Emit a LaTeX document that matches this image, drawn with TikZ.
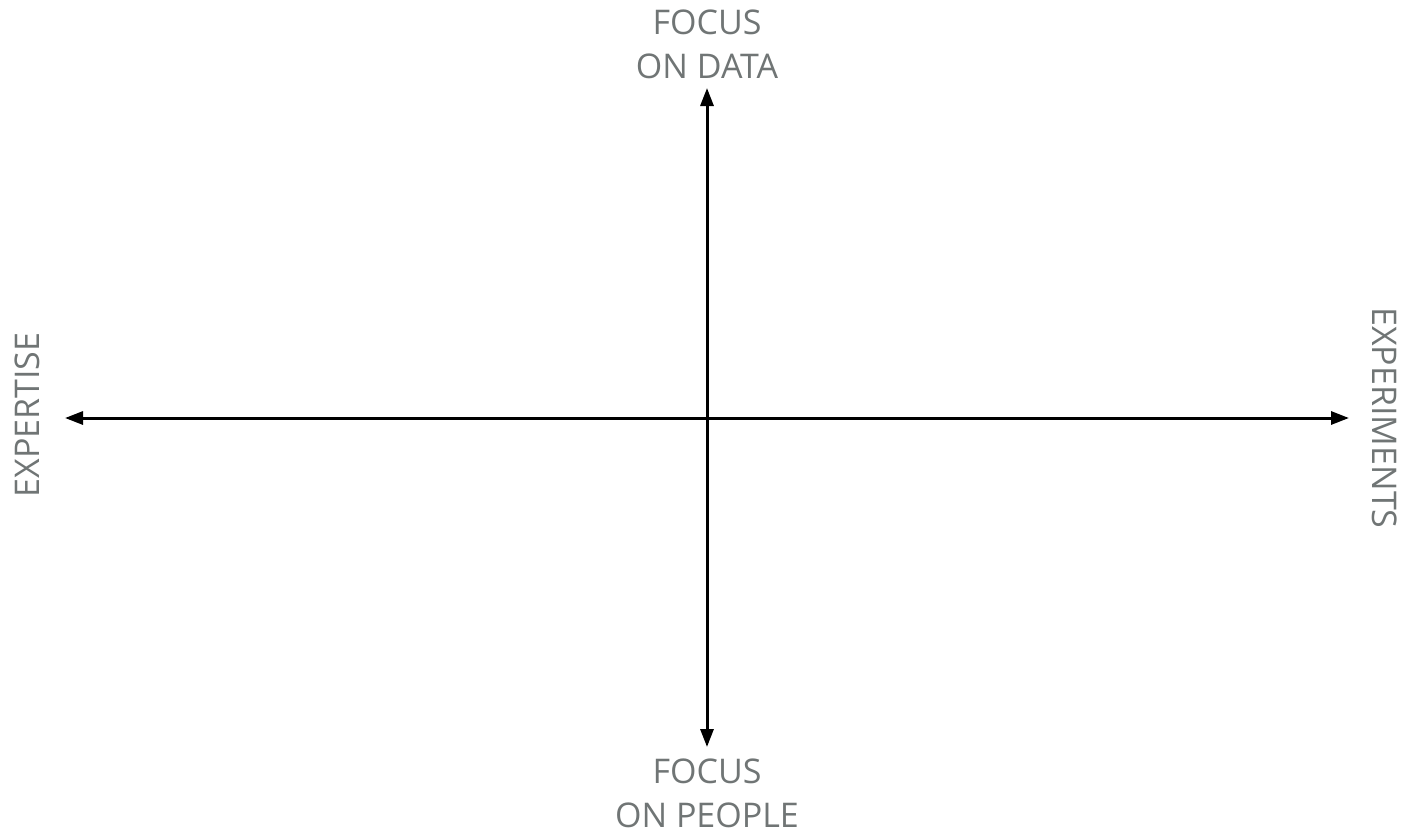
\documentclass[tikz,border=0pt]{standalone}
\usepackage{fontspec}
\setmainfont{Open Sans}
\usepackage{xcolor}
\usetikzlibrary{arrows.meta}
\definecolor{labelgray}{RGB}{112,117,117}

\tikzset{
    axis/.style={line width=3pt, {Triangle[length=18pt,width=13pt]}-{Triangle[length=18pt,width=13pt]}},
    label/.style={text=labelgray, align=center, inner sep=0pt, font=\fontsize{34pt}{44pt}\selectfont}
}

\begin{document}
\begin{tikzpicture}[x=1pt,y=-1pt]
        \useasboundingbox (0,0) rectangle (1408,836);
        % axis ends
        \coordinate (west) at (65,418);
        \coordinate (east) at (1349,418);
        \coordinate (north) at (707,88);
        \coordinate (south) at (707,747);
        \draw[axis] (west) -- (east);
        \draw[axis] (south) -- (north);
        % labels
        \node[label, anchor=north] (data) at (707,10) {FOCUS\\ON DATA};
        \node[label, anchor=south] (people) at (707,828) {FOCUS\\ON PEOPLE};
        \node[label, rotate=90] (expertise) at (27,415) {EXPERTISE};
        \node[label, rotate=-90] (experiments) at (1385,418) {EXPERIMENTS};
    \end{tikzpicture}
\end{document}
